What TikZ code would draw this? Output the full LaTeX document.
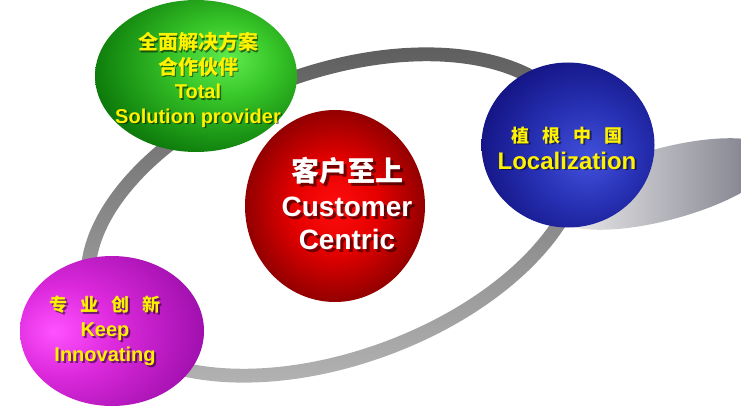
\documentclass[tikz,border=0pt]{standalone}
\usepackage{fontspec}
\setmainfont{Liberation Sans}
\newfontfamily\cjk{Noto Sans CJK SC}
\newfontfamily\cjkwide{Noto Sans CJK SC}[WordSpace=3.2]
\usetikzlibrary{shapes.geometric}

\pgfdeclareradialshading{greenball}{\pgfpoint{8bp}{6bp}}{rgb(0bp)=(0.38,0.92,0.3); rgb(12bp)=(0.22,0.78,0.16); rgb(30bp)=(0.06,0.5,0.05); rgb(48bp)=(0,0.22,0); rgb(100bp)=(0,0.15,0)}
\pgfdeclareradialshading{redball}{\pgfpoint{0bp}{0bp}}{rgb(0bp)=(1,0.05,0.05); rgb(12bp)=(0.9,0,0); rgb(30bp)=(0.45,0,0); rgb(48bp)=(0.12,0,0); rgb(100bp)=(0.08,0,0)}
\pgfdeclareradialshading{blueball}{\pgfpoint{6bp}{-4bp}}{rgb(0bp)=(0.26,0.32,0.86); rgb(14bp)=(0.16,0.2,0.72); rgb(32bp)=(0.07,0.07,0.5); rgb(50bp)=(0.03,0.03,0.3); rgb(100bp)=(0.02,0.02,0.25)}
\pgfdeclareradialshading{purpleball}{\pgfpoint{-16bp}{0bp}}{rgb(0bp)=(1,0.32,1); rgb(15bp)=(0.86,0.16,0.86); rgb(38bp)=(0.6,0.05,0.66); rgb(60bp)=(0.38,0,0.44); rgb(100bp)=(0.3,0,0.36)}

\begin{document}
\begin{tikzpicture}[x=1pt,y=-1pt,
    ball/.style={ellipse,inner sep=0pt,shade},
    balltext/.style={align=center,text=yellow},
    txtshadow/.style={align=center,text=black,opacity=0.5}]
  \useasboundingbox (0,0) rectangle (741,409);

  \path[rotate around={15:(665,184)},shading angle=250,left color=white!92!gray,right color=black!45!blue!10!gray]
    (665,184) ellipse (115pt and 36pt);
  \path[even odd rule,top color=black!65,bottom color=black!28,rotate around={20:(335,215)}]
    (335,215) ellipse (265pt and 150pt) (335,215) ellipse (250pt and 136pt);

  \node[ball,shading=greenball,minimum width=202pt,minimum height=152pt] (total) at (196,76) {};
  \node[ball,shading=redball,minimum width=180pt,minimum height=192pt] (customer) at (335,206) {};
  \node[ball,shading=blueball,minimum width=173pt,minimum height=165pt] (local) at (568,145) {};
  \node[ball,shading=purpleball,minimum width=184pt,minimum height=150pt] (innov) at (112,331) {};

  \node[txtshadow,font=\bfseries\fontsize{20}{24.5}\selectfont] (totalshadow) at (199.5,81.5)
    {\cjk 全面解决方案\\ \cjk 合作伙伴\\ Total\\ Solution provider};
  \node[balltext,font=\bfseries\fontsize{20}{24.5}\selectfont] (totaltext) at (198,80)
    {\cjk 全面解决方案\\ \cjk 合作伙伴\\ Total\\ Solution provider};

  \node[txtshadow,font=\bfseries\fontsize{28}{33}\selectfont] (customershadow) at (350,206)
    {\cjk 客户至上\\[2pt] Customer\\ Centric};
  \node[balltext,text=white,font=\bfseries\fontsize{28}{33}\selectfont] (customertext) at (347,203)
    {\cjk 客户至上\\[2pt] Customer\\ Centric};

  \node[txtshadow,font=\bfseries\fontsize{24}{27}\selectfont] (localshadow) at (569,149.5)
    {\cjkwide\fontsize{18}{27}\selectfont 植 根 中 国\\ Localization};
  \node[balltext,font=\bfseries\fontsize{24}{27}\selectfont] (localtext) at (567,148)
    {\cjkwide\fontsize{18}{27}\selectfont 植 根 中 国\\ Localization};

  \node[txtshadow,font=\bfseries\fontsize{20}{25}\selectfont] (innovshadow) at (107,332.5)
    {\cjkwide\fontsize{18}{25}\selectfont 专 业 创 新\\ Keep\\ Innovating};
  \node[balltext,font=\bfseries\fontsize{20}{25}\selectfont] (innovtext) at (105,331)
    {\cjkwide\fontsize{18}{25}\selectfont 专 业 创 新\\ Keep\\ Innovating};
\end{tikzpicture}
\end{document}
